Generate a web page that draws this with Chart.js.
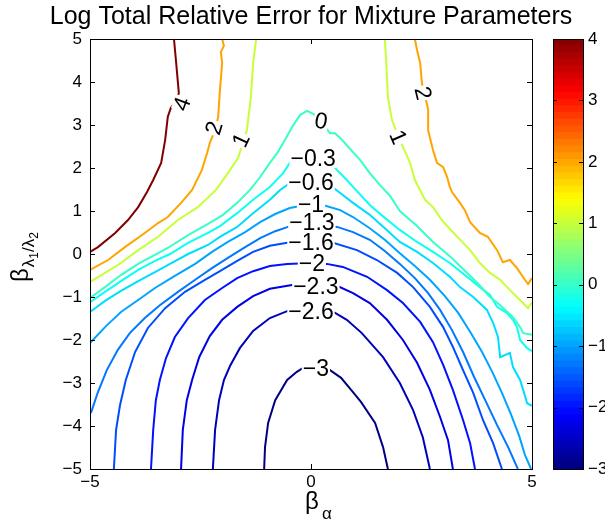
<!DOCTYPE html>
<html>
<head>
<meta charset="utf-8">
<script src="https://cdn.jsdelivr.net/npm/chart.js@4.4.1/dist/chart.umd.min.js"></script>
<style>
  html, body { margin: 0; padding: 0; background: #fff; }
  #wrap { position: relative; width: 605px; height: 531px; overflow: hidden; }
  #main { position: absolute; left: 0; top: 0; }
  #cbar { position: absolute; left: 540px; top: 0; }
</style>
</head>
<body>
<div id="wrap">
  <canvas id="main" width="605" height="531" style="width:605px;height:531px"></canvas>
  <canvas id="cbar" width="65" height="531" style="width:65px;height:531px"></canvas>
</div>
<script>
const cmin = -3, cmax = 4;
const xTicks = [-5, 0, 5];
const yTicks = [-5, -4, -3, -2, -1, 0, 1, 2, 3, 4, 5];
const barTicks = [-3, -2, -1, 0, 1, 2, 3, 4];

// contour lines, [beta_alpha, beta_lambda] pairs
const c4 = [[-3.10,5.00],[-3.05,4.44],[-2.99,3.74],[-3.05,3.56],[-3.17,3.40],[-3.24,3.19],[-3.30,2.65],[-3.39,2.12],[-3.57,1.72],[-3.71,1.44],[-3.91,1.09],[-4.14,0.79],[-4.43,0.49],[-4.82,0.16],[-5.00,0.05]];
const c2a = [[-2.01,5.00],[-1.97,4.84],[-2.04,4.70],[-2.01,4.44],[-2.06,3.81],[-2.10,3.19],[-2.17,2.88],[-2.29,2.58],[-2.35,2.35],[-2.47,1.95],[-2.69,1.49],[-2.94,1.19],[-3.24,0.86],[-3.46,0.72],[-3.76,0.49],[-4.21,0.16],[-4.59,-0.14],[-5.00,-0.37]];
const c2b = [[2.35,5.00],[2.40,4.74],[2.47,4.44],[2.51,3.98],[2.56,3.70],[2.62,3.51],[2.65,3.35],[2.65,2.88],[2.76,2.42],[2.85,2.12],[2.99,2.02],[3.08,1.79],[3.14,1.56],[3.19,1.44],[3.37,1.19],[3.48,1.02],[3.60,0.74],[3.82,0.49],[4.00,0.40],[4.21,0.09],[4.34,-0.19],[4.50,-0.14],[4.66,-0.33],[4.84,-0.60],[4.91,-0.70],[5.00,-0.56]];
const c1a = [[-1.24,5.00],[-1.31,4.44],[-1.36,3.65],[-1.45,2.88],[-1.56,2.53],[-1.65,2.23],[-1.88,1.88],[-2.15,1.49],[-2.56,1.09],[-3.01,0.79],[-3.46,0.40],[-3.91,0.09],[-4.30,-0.21],[-4.66,-0.44],[-5.00,-0.65]];
const c1b = [[1.67,5.00],[1.70,4.51],[1.74,3.65],[1.83,3.12],[1.92,2.88],[2.08,2.49],[2.24,2.12],[2.35,1.72],[2.58,1.26],[2.76,1.09],[2.96,0.79],[3.19,0.53],[3.44,0.26],[3.60,0.09],[3.82,-0.21],[4.05,-0.44],[4.28,-0.60],[4.50,-0.84],[4.66,-1.00],[4.91,-1.26],[5.00,-1.12]];
const c0 = [[-5.00,-1.02],[-4.66,-0.77],[-4.30,-0.49],[-3.91,-0.23],[-3.53,-0.02],[-3.24,0.14],[-2.78,0.44],[-2.33,0.70],[-1.99,0.91],[-1.67,1.19],[-1.38,1.49],[-1.15,1.79],[-0.93,2.12],[-0.75,2.37],[-0.59,2.65],[-0.43,2.95],[-0.25,3.23],[-0.09,3.33],[0.05,3.26],[0.20,3.12],[0.43,2.81],[0.54,2.81],[0.66,2.70],[0.81,2.53],[0.95,2.37],[1.11,2.19],[1.33,1.88],[1.56,1.60],[1.79,1.35],[2.01,1.00],[2.40,0.65],[2.76,0.28],[3.14,-0.05],[3.37,-0.28],[3.76,-0.67],[4.05,-1.00],[4.28,-1.19],[4.57,-1.47],[4.73,-1.70],[4.80,-1.84],[5.00,-1.88]];
const cm03 = [[-5.00,-1.12],[-4.66,-0.88],[-4.30,-0.63],[-3.91,-0.37],[-3.53,-0.16],[-3.19,0.00],[-2.78,0.26],[-2.33,0.49],[-2.06,0.65],[-1.67,0.95],[-1.31,1.26],[-0.93,1.56],[-0.63,1.88],[-0.48,2.12],[0.02,2.26],[0.43,2.14],[0.59,1.95],[0.81,1.72],[0.95,1.56],[1.33,1.14],[1.67,0.84],[2.01,0.56],[2.40,0.28],[2.76,0.05],[3.14,-0.21],[3.53,-0.53],[3.82,-0.77],[4.05,-0.95],[4.21,-1.23],[4.43,-1.37],[4.57,-1.53],[4.66,-1.70],[4.73,-2.00],[4.89,-2.19],[5.00,-2.26]];
const cm06 = [[-5.00,-1.35],[-4.66,-1.09],[-4.30,-0.86],[-3.91,-0.63],[-3.53,-0.42],[-3.19,-0.23],[-2.78,0.00],[-2.33,0.21],[-2.06,0.40],[-1.67,0.63],[-1.31,0.95],[-0.93,1.26],[-0.70,1.49],[-0.54,1.60],[-0.02,1.77],[0.48,1.56],[0.66,1.42],[0.95,1.19],[1.33,0.91],[1.67,0.60],[2.01,0.28],[2.40,0.05],[2.76,-0.21],[3.14,-0.53],[3.37,-0.77],[3.67,-1.00],[3.98,-1.30],[4.12,-1.60],[4.23,-1.93],[4.28,-2.40],[4.50,-2.30],[4.57,-2.63],[4.73,-2.93],[4.80,-3.16],[4.89,-3.47],[5.00,-3.53]];
const cm10 = [[-5.00,-2.07],[-4.66,-1.70],[-4.30,-1.35],[-3.91,-1.07],[-3.53,-0.79],[-3.08,-0.51],[-2.62,-0.23],[-2.24,0.05],[-1.88,0.28],[-1.49,0.51],[-1.15,0.74],[-0.81,0.93],[-0.48,1.07],[0.00,1.16],[0.27,1.14],[0.66,1.02],[0.95,0.86],[1.33,0.60],[1.67,0.33],[2.01,0.02],[2.35,-0.28],[2.69,-0.60],[3.03,-0.98],[3.33,-1.37],[3.60,-1.81],[3.87,-2.28],[4.10,-2.74],[4.32,-3.23],[4.52,-3.72],[4.71,-4.23],[4.84,-4.67],[4.98,-5.00]];
const cm13 = [[-4.98,-3.70],[-4.82,-3.21],[-4.62,-2.70],[-4.37,-2.23],[-4.10,-1.84],[-3.76,-1.49],[-3.42,-1.19],[-3.01,-0.88],[-2.62,-0.60],[-2.24,-0.33],[-1.88,-0.09],[-1.49,0.16],[-1.15,0.37],[-0.81,0.53],[-0.52,0.63],[0.02,0.70],[0.59,0.63],[0.95,0.51],[1.33,0.33],[1.67,0.07],[2.01,-0.23],[2.35,-0.56],[2.65,-0.91],[2.92,-1.30],[3.19,-1.77],[3.44,-2.28],[3.69,-2.86],[3.96,-3.44],[4.21,-3.98],[4.46,-4.49],[4.68,-5.00]];
const cm16 = [[-4.46,-5.00],[-4.41,-4.09],[-4.32,-3.51],[-4.19,-2.93],[-3.98,-2.28],[-3.69,-1.72],[-3.30,-1.26],[-2.85,-0.88],[-2.40,-0.60],[-2.06,-0.40],[-1.67,-0.16],[-1.31,0.05],[-0.93,0.19],[-0.54,0.26],[0.00,0.28],[0.50,0.26],[1.04,0.09],[1.49,-0.14],[1.95,-0.44],[2.31,-0.77],[2.69,-1.23],[2.99,-1.70],[3.21,-2.16],[3.44,-2.70],[3.67,-3.23],[3.89,-3.86],[4.12,-4.40],[4.32,-5.00]];
const cm20 = [[-3.62,-5.00],[-3.57,-4.09],[-3.51,-3.40],[-3.42,-2.93],[-3.28,-2.42],[-3.08,-1.93],[-2.78,-1.49],[-2.40,-1.07],[-2.01,-0.79],[-1.67,-0.56],[-1.31,-0.40],[-0.93,-0.28],[-0.54,-0.23],[0.02,-0.21],[0.36,-0.23],[0.72,-0.30],[1.27,-0.53],[1.72,-0.84],[2.08,-1.14],[2.47,-1.58],[2.76,-2.05],[2.99,-2.58],[3.21,-3.16],[3.44,-3.86],[3.60,-4.40],[3.71,-5.00]];
const cm23 = [[-2.94,-5.00],[-2.90,-4.09],[-2.81,-3.40],[-2.69,-2.93],[-2.53,-2.40],[-2.29,-1.91],[-2.01,-1.53],[-1.67,-1.23],[-1.31,-0.98],[-0.93,-0.81],[-0.43,-0.72],[0.11,-0.70],[0.59,-0.74],[0.95,-0.91],[1.33,-1.14],[1.72,-1.53],[2.08,-2.00],[2.40,-2.53],[2.69,-3.16],[2.92,-3.79],[3.10,-4.33],[3.21,-5.00]];
const cm26 = [[-2.22,-5.00],[-2.17,-4.09],[-2.08,-3.40],[-1.97,-2.93],[-1.83,-2.60],[-1.61,-2.19],[-1.31,-1.79],[-0.93,-1.49],[-0.54,-1.33],[-0.02,-1.28],[0.48,-1.33],[0.81,-1.53],[1.15,-1.84],[1.63,-2.40],[2.01,-3.00],[2.31,-3.63],[2.53,-4.26],[2.69,-5.00]];
const cm30 = [[-1.06,-5.00],[-1.04,-4.49],[-0.97,-3.93],[-0.81,-3.40],[-0.54,-2.93],[-0.32,-2.74],[-0.18,-2.65],[0.11,-2.60],[0.36,-2.65],[0.68,-2.88],[0.95,-3.21],[1.13,-3.44],[1.45,-3.93],[1.63,-4.49],[1.74,-5.00]];

const contourLevels = [4, 2, 2, 1, 1, 0, -0.3, -0.6, -1, -1.3, -1.6, -2, -2.3, -2.6, -3];
const contourLines = [c4, c2a, c2b, c1a, c1b, c0, cm03, cm06, cm10, cm13, cm16, cm20, cm23, cm26, cm30];

// inline contour labels
const labelText = ['4', '2', '1', '0', '\u22120.3', '\u22120.6', '\u22121', '\u22121.3', '\u22121.6', '\u22122', '\u22122.3', '\u22122.6', '\u22123', '2', '1'];
const labelX = [-2.92, -2.19, -1.58, 0.23, 0.05, 0.00, 0.00, 0.02, 0.00, 0.02, 0.11, 0.00, 0.11, 2.53, 1.97];
const labelY = [3.49, 2.93, 2.65, 3.09, 2.21, 1.67, 1.14, 0.72, 0.26, -0.23, -0.77, -1.33, -2.67, 3.74, 2.72];
const labelAngle = [-70, -73, -65, 10, 0, 0, 0, 0, 0, 0, 0, 0, 0, 76, 66];

const FONT = '"Liberation Sans", Arial, Helvetica, sans-serif';
Chart.defaults.font.family = FONT;
Chart.defaults.color = '#000';

function jet( v ) {
	const t = ( v - cmin ) / ( cmax - cmin );
	const c = k => Math.round( 255 * Math.min( 1, Math.max( 0, 1.5 - Math.abs( 4 * t - k ) ) ) );
	return 'rgb(' + c( 3 ) + ',' + c( 2 ) + ',' + c( 1 ) + ')';
}

function minus( v ) {
	return String( v ).replace( '-', '\u2212' );
}

const datasets = contourLines.map( ( line, i ) => ( {
	data: line.map( p => ( { x: p[0], y: p[1] } ) ),
	showLine: true,
	borderColor: jet( contourLevels[i] ),
	borderWidth: 2,
	pointRadius: 0,
	fill: false,
	tension: 0
} ) );

// box, inner ticks, contour labels, title and axis titles
const decor = {
	id: 'decor',
	afterDatasetsDraw( chart ) {
		const ctx = chart.ctx, a = chart.chartArea;
		const xs = chart.scales.x, ys = chart.scales.y;

		ctx.save();
		ctx.font = '23px ' + FONT;
		ctx.textAlign = 'center';
		ctx.textBaseline = 'middle';
		labelText.forEach( ( txt, i ) => {
			const px = xs.getPixelForValue( labelX[i] ), py = ys.getPixelForValue( labelY[i] );
			const w = ctx.measureText( txt ).width;
			ctx.save();
			ctx.translate( px, py );
			ctx.rotate( labelAngle[i] * Math.PI / 180 );
			ctx.fillStyle = '#fff';
			ctx.fillRect( -w / 2 - 1, -9, w + 2, 18 );
			ctx.fillStyle = '#000';
			ctx.fillText( txt, 0, 1 );
			ctx.restore();
		} );

		ctx.strokeStyle = '#000';
		ctx.lineWidth = 1;
		ctx.beginPath();
		xTicks.forEach( v => {
			const px = Math.round( xs.getPixelForValue( v ) ) + 0.5;
			ctx.moveTo( px, a.bottom ); ctx.lineTo( px, a.bottom - 5 );
			ctx.moveTo( px, a.top ); ctx.lineTo( px, a.top + 5 );
		} );
		yTicks.forEach( v => {
			const py = Math.round( ys.getPixelForValue( v ) ) + 0.5;
			ctx.moveTo( a.left, py ); ctx.lineTo( a.left + 5, py );
			ctx.moveTo( a.right, py ); ctx.lineTo( a.right - 5, py );
		} );
		ctx.stroke();
		ctx.strokeRect( a.left + 0.5, a.top + 0.5, a.right - a.left, a.bottom - a.top );

		// title
		ctx.font = '25px ' + FONT;
		ctx.textBaseline = 'alphabetic';
		ctx.fillText( 'Log Total Relative Error for Mixture Parameters', 311, 24 );

		// x title: beta_alpha
		ctx.textAlign = 'left';
		ctx.font = '24px ' + FONT;
		ctx.fillText( '\u03b2', 305, 509 );
		ctx.font = '17px ' + FONT;
		ctx.fillText( '\u03b1', 322, 519 );

		// y title: beta_{lambda_1/lambda_2}
		ctx.translate( 28, 282 );
		ctx.rotate( -Math.PI / 2 );
		ctx.font = '24px ' + FONT;
		ctx.fillText( '\u03b2', 0, 0 );
		let x = ctx.measureText( '\u03b2' ).width + 1;
		const parts = [ [ '\u03bb', 17, 6 ], [ '1', 12, 10 ], [ '/', 17, 6 ], [ '\u03bb', 17, 6 ], [ '2', 12, 10 ] ];
		parts.forEach( p => {
			ctx.font = p[1] + 'px ' + FONT;
			ctx.fillText( p[0], x, p[2] );
			x += ctx.measureText( p[0] ).width;
		} );
		ctx.restore();
	}
};

new Chart( 'main', {
	type: 'scatter',
	data: { datasets: datasets },
	options: {
		responsive: false,
		animation: false,
		layout: { padding: { top: 39, right: 73, left: 0, bottom: 0 } },
		plugins: { legend: { display: false }, tooltip: { enabled: false } },
		scales: {
			x: {
				type: 'linear', min: -5, max: 5,
				afterBuildTicks: s => { s.ticks = xTicks.map( v => ( { value: v } ) ); },
				afterFit: s => { s.height = 62; },
				ticks: { font: { size: 17 }, padding: 3, maxRotation: 0, callback: minus },
				grid: { display: false, drawTicks: false },
				border: { display: false }
			},
			y: {
				type: 'linear', min: -5, max: 5,
				afterBuildTicks: s => { s.ticks = yTicks.map( v => ( { value: v } ) ); },
				afterFit: s => { s.width = 90; },
				ticks: { font: { size: 17 }, padding: 8, callback: minus },
				grid: { display: false, drawTicks: false },
				border: { display: false }
			}
		}
	},
	plugins: [ decor ]
} );

// colorbar: 64 jet bands as floating bars
const bands = [];
for ( let i = 0; i < 64; i++ ) {
	const lo = cmin + ( cmax - cmin ) * i / 64, hi = cmin + ( cmax - cmin ) * ( i + 1 ) / 64;
	bands.push( {
		data: [ [ lo, Math.min( cmax, hi + 0.01 ) ] ],
		backgroundColor: jet( ( lo + hi ) / 2 ),
		borderWidth: 0,
		grouped: false,
		barPercentage: 1,
		categoryPercentage: 1
	} );
}

const barFrame = {
	id: 'barFrame',
	afterDatasetsDraw( chart ) {
		const ctx = chart.ctx, a = chart.chartArea, ys = chart.scales.y;
		ctx.save();
		ctx.strokeStyle = '#000';
		ctx.lineWidth = 1;
		ctx.beginPath();
		barTicks.forEach( v => {
			const py = Math.round( ys.getPixelForValue( v ) ) + 0.5;
			ctx.moveTo( a.left, py ); ctx.lineTo( a.left + 4, py );
			ctx.moveTo( a.right, py ); ctx.lineTo( a.right - 4, py );
		} );
		ctx.stroke();
		ctx.strokeRect( a.left + 0.5, a.top + 0.5, a.right - a.left, a.bottom - a.top );
		ctx.restore();
	}
};

new Chart( 'cbar', {
	type: 'bar',
	data: { labels: [ '' ], datasets: bands },
	options: {
		responsive: false,
		animation: false,
		layout: { padding: { left: 13, top: 39, bottom: 62, right: 0 } },
		plugins: { legend: { display: false }, tooltip: { enabled: false } },
		scales: {
			x: { display: false },
			y: {
				position: 'right', min: cmin, max: cmax,
				afterBuildTicks: s => { s.ticks = barTicks.map( v => ( { value: v } ) ); },
				afterFit: s => { s.width = 22; },
				ticks: { font: { size: 17 }, padding: 5, callback: minus },
				grid: { display: false, drawTicks: false },
				border: { display: false }
			}
		}
	},
	plugins: [ barFrame ]
} );
</script>
</body>
</html>
